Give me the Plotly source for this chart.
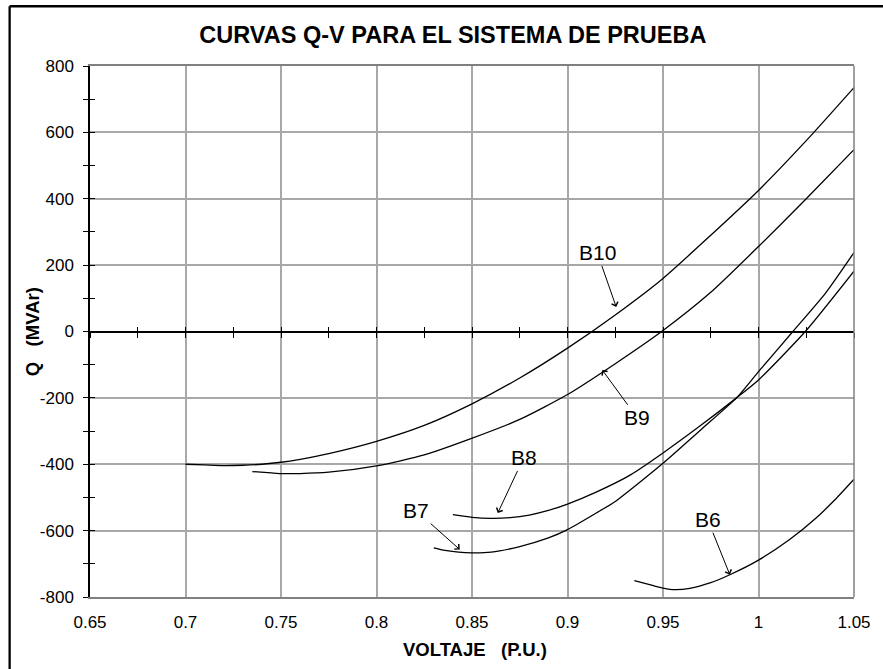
import plotly.graph_objects as go

# ---------------- data ----------------
b10_v = [0.700, 0.710, 0.720, 0.730, 0.740, 0.750, 0.760, 0.775, 0.800, 0.825, 0.850, 0.875, 0.900, 0.925, 0.950, 0.975, 1.000, 1.025, 1.050]
b10_q = [-400, -402, -404, -403, -400, -394, -385, -368, -331, -283, -218, -140, -50, 50, 160, 290, 425, 575, 735]

b9_v = [0.735, 0.745, 0.750, 0.760, 0.775, 0.800, 0.825, 0.848, 0.875, 0.900, 0.925, 0.950, 0.975, 1.000, 1.025, 1.050]
b9_q = [-422, -426, -428, -428, -424, -405, -372, -326, -265, -190, -97, 3, 118, 256, 400, 548]

b8_v = [0.840, 0.850, 0.860, 0.870, 0.880, 0.890, 0.900, 0.915, 0.933, 0.950, 0.970, 0.9885, 1.000, 1.0245, 1.050]
b8_q = [-552, -560, -563, -561, -553, -539, -520, -484, -432, -366, -282, -200, -146, 0, 182]

b7_v = [0.830, 0.835, 0.843, 0.850, 0.860, 0.875, 0.890, 0.900, 0.9156, 0.925, 0.950, 0.970, 0.9885, 1.000, 1.018, 1.035, 1.050]
b7_q = [-652, -659, -665, -667, -665, -648, -622, -597, -545, -512, -397, -295, -200, -121, 0, 115, 238]

b6_v = [0.935, 0.945, 0.950, 0.956, 0.964, 0.975, 0.985, 1.000, 1.0163, 1.030, 1.040, 1.050]
b6_q = [-751, -766, -773, -778, -774, -757, -733, -689, -627, -563, -507, -445]

series_names = ["B10", "B9", "B8", "B7", "B6"]

# label positions (text centre) and arrow tips, in data units
label_v = [0.9156, 0.9365, 0.8770, 0.8208, 0.9734]
label_q = [237, -260, -381, -540, -567]
tip_v = [0.9255, 0.9182, 0.8635, 0.8436, 0.9850]
tip_q = [74, -116, -547, -657, -733]

x_ticks = [0.65, 0.7, 0.75, 0.8, 0.85, 0.9, 0.95, 1.0, 1.05]
x_tick_text = ["0.65", "0.7", "0.75", "0.8", "0.85", "0.9", "0.95", "1", "1.05"]
y_ticks = [800, 600, 400, 200, 0, -200, -400, -600, -800]
y_tick_text = ["800", "600", "400", "200", "0", "-200", "-400", "-600", "-800"]

title_text = "CURVAS Q-V PARA EL SISTEMA DE PRUEBA"
x_title = "VOLTAJE   (P.U.)"
y_title = "Q   (MVAr)"

# ---------------- figure ----------------
FONT = "Arial, 'Liberation Sans', sans-serif"
GRID = "#a8a8a8"

fig = go.Figure()
all_series = [(b10_v, b10_q), (b9_v, b9_q), (b8_v, b8_q), (b7_v, b7_q), (b6_v, b6_q)]
for name, (vv, qq) in zip(series_names, all_series):
    fig.add_trace(go.Scatter(x=vv, y=qq, mode="lines", name=name,
                             line=dict(color="black", width=1.3, shape="spline", smoothing=0.6),
                             showlegend=False, hoverinfo="skip"))

# empty traces only to register the helper axes (crossing tick marks)
for xa, ya in [("x2", "y"), ("x3", "y"), ("x", "y2")]:
    fig.add_trace(go.Scatter(x=[], y=[], xaxis=xa, yaxis=ya, mode="lines",
                             showlegend=False, hoverinfo="skip"))

for name, lv, lq, tv, tq in zip(series_names, label_v, label_q, tip_v, tip_q):
    fig.add_annotation(x=tv, y=tq, ax=lv, ay=lq, xref="x", yref="y", axref="x", ayref="y",
                       text=name, showarrow=True, arrowhead=4, arrowsize=1.3, arrowwidth=1,
                       arrowcolor="black", standoff=0, startstandoff=0,
                       font=dict(family=FONT, size=21, color="black"))

fig.add_annotation(text=x_title, xref="paper", yref="paper", x=0.504, y=-0.099,
                   showarrow=False, xanchor="center", yanchor="middle",
                   font=dict(family=FONT, size=18.5, color="black", weight="bold"))
fig.add_annotation(text=y_title, xref="paper", yref="paper", x=-0.075, y=0.5,
                   showarrow=False, textangle=-90, xanchor="center", yanchor="middle",
                   font=dict(family=FONT, size=18.5, color="black", weight="bold"))

# outer frame (only left and top edges visible in the reference)
fig.add_shape(type="line", xref="paper", yref="paper", x0=-0.1052, x1=-0.1052, y0=-0.3, y1=1.1125,
              line=dict(color="black", width=2.3))
fig.add_shape(type="line", xref="paper", yref="paper", x0=-0.1052, x1=1.2, y0=1.1125, y1=1.1125,
              line=dict(color="black", width=2.3))
# grey plot border on right
fig.add_shape(type="line", xref="paper", yref="paper", x0=1, x1=1, y0=0, y1=1,
              line=dict(color="#808080", width=1.5))

fig.update_layout(
    width=883, height=669,
    margin=dict(l=90, r=25, t=66, b=72),
    paper_bgcolor="white", plot_bgcolor="white",
    font=dict(family=FONT, color="black"),
    title=dict(text=title_text, x=0.475, xref="paper", xanchor="center",
               y=1 - 34.7 / 669, yref="container", yanchor="middle",
               font=dict(family=FONT, size=23.5, color="black", weight="bold")),
    xaxis=dict(range=[0.65, 1.05], tickvals=x_ticks, ticktext=x_tick_text,
               showgrid=True, gridcolor=GRID, gridwidth=1.5,
               showline=True, linecolor="#808080", linewidth=1.5, mirror=True,
               ticks="", ticklabelstandoff=9, zeroline=False,
               tickfont=dict(family=FONT, size=17, color="black")),
    yaxis=dict(range=[-800, 800], tickvals=y_ticks, ticktext=y_tick_text,
               showgrid=True, gridcolor=GRID, gridwidth=1.5,
               zeroline=True, zerolinecolor="black", zerolinewidth=1.5,
               showline=True, linecolor="black", linewidth=1.5,
               ticks="outside", ticklen=5, tickwidth=1, tickcolor="black",
               minor=dict(ticks="outside", dtick=100, tick0=0, ticklen=5, tickwidth=1,
                          tickcolor="black", showgrid=False),
               ticklabelstandoff=6,
               tickfont=dict(family=FONT, size=17, color="black")),
    yaxis2=dict(range=[-800, 800], overlaying="y", anchor="x", side="left",
                ticks="inside", dtick=100, tick0=0, ticklen=5, tickwidth=1, tickcolor="black",
                showticklabels=False, showgrid=False, zeroline=False, showline=False),
    xaxis2=dict(range=[0.65, 1.05], overlaying="x", anchor="free", position=0.5,
                ticks="outside", dtick=0.025, tick0=0.65, ticklen=5, tickwidth=1, tickcolor="black",
                showticklabels=False, showgrid=False, zeroline=False, showline=False),
    xaxis3=dict(range=[0.65, 1.05], overlaying="x", anchor="free", position=0.5,
                ticks="inside", dtick=0.025, tick0=0.65, ticklen=5, tickwidth=1, tickcolor="black",
                showticklabels=False, showgrid=False, zeroline=False, showline=False),
)

fig.write_html("out.html")
